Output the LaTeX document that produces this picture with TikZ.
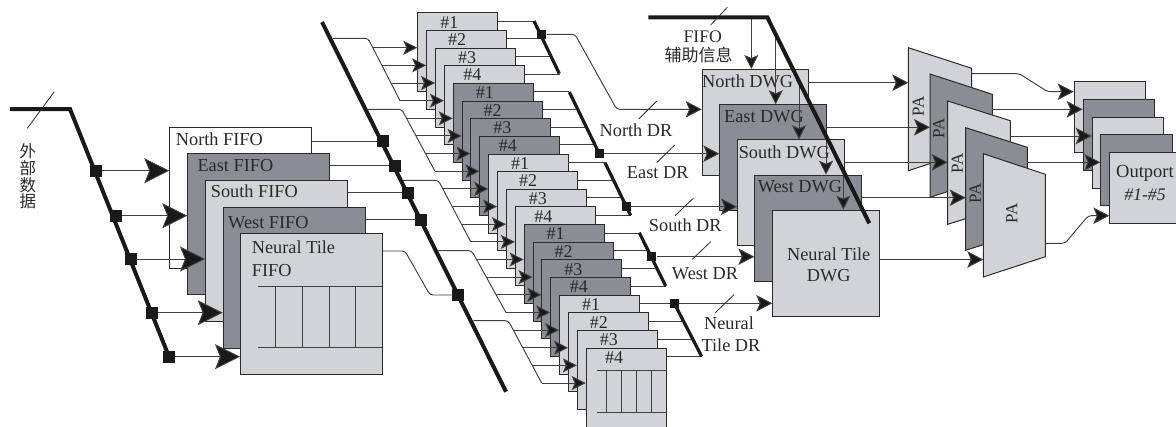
\documentclass[tikz,border=0pt]{standalone}
\usepackage{fontspec}
\setmainfont{Liberation Serif}
\newfontfamily\cjk{Noto Sans CJK SC}
\usetikzlibrary{arrows.meta,calc}
\definecolor{lightbox}{HTML}{D2D3D7}
\definecolor{darkbox}{HTML}{8B8D95}
\definecolor{ink}{HTML}{2A2A2A}
\newcommand{\fsz}[1]{\fontsize{#1}{#1}\selectfont}
\tikzset{
  boxbase/.style={draw=ink,line width=1pt,inner sep=0pt,anchor=north west},
  fifobox/.style={boxbase,minimum width=142pt,minimum height=141pt},
  hashbox/.style={boxbase,minimum width=80pt,minimum height=79pt},
  dwgbox/.style={boxbase,minimum width=106.6pt,minimum height=106pt},
  outbox/.style={boxbase,minimum width=71.3pt,minimum height=71pt},
  paface/.style={draw=ink,line width=1pt,line join=miter},
  txt/.style={text=ink,inner sep=0pt,font=\fsz{18.3}},
  hashtxt/.style={text=ink,inner sep=0pt,font=\fsz{18}},
  thin line/.style={draw=ink!90!white,line width=0.95pt},
  slash/.style={draw=ink,line width=0.8pt},
  thickbus/.style={draw=black!90,line width=4pt,line join=miter},
  groupbus/.style={draw=black!90,line width=3.2pt},
  bigjoin/.style={fill=black!90,draw=none,minimum size=12pt,inner sep=0pt},
  smalljoin/.style={fill=black!90,draw=none,minimum size=9.5pt,inner sep=0pt},
  bigarrow/.style={thin line,-{Stealth[length=25pt,width=25pt,inset=5pt,fill=black!90]}},
  midarrow/.style={thin line,-{Stealth[length=16pt,width=16.5pt,inset=3.5pt,fill=black!90]}},
  tinyarrow/.style={thin line,-{Stealth[length=14pt,width=14pt,inset=3pt,fill=black!90]}},
}
\begin{document}
\begin{tikzpicture}[x=1pt,y=-1pt]
\useasboundingbox (0,0) rectangle (1176,426);
\clip (0,0) rectangle (1176,426);

% ---------- input FIFOs ----------
\coordinate (busA0) at (10,109);
\coordinate (busA1) at (70,109);
\coordinate (busA2) at (169,356.7);
\node[bigjoin] (ja1) at (96,170.7) {};
\node[bigjoin] (ja2) at (116,215.7) {};
\node[bigjoin] (ja3) at (131,259) {};
\node[bigjoin] (ja4) at (152,312.7) {};
\node[bigjoin] (ja5) at (169,356.7) {};

\node[fifobox,fill=white] (fn) at (169.3,127.3) {};
\draw[bigarrow] (ja1) -- (ja1 -| fn.west);
\node[txt,anchor=west] (fnt) at (175.7,139.3) {North FIFO};
\coordinate (fe0) at (187.3,153);
\draw[bigarrow] (ja2) -- (ja2 -| fe0);
\node[fifobox,fill=darkbox] (fe) at (fe0) {};
\node[txt,anchor=west] (fet) at (197.3,165.7) {East FIFO};
\coordinate (fs0) at (205,179.7);
\draw[bigarrow] (ja3) -- (ja3 -| fs0);
\node[fifobox,fill=lightbox] (fs) at (fs0) {};
\node[txt,anchor=west] (fst) at (210.7,191.7) {South FIFO};
\coordinate (fw0) at (222.7,206.7);
\draw[bigarrow] (ja4) -- (ja4 -| fw0);
\node[fifobox,fill=darkbox] (fw) at (fw0) {};
\node[txt,anchor=west] (fwt) at (228,222.7) {West FIFO};
\coordinate (ft0) at (240,232.7);
\draw[bigarrow] (ja5) -- (ja5 -| ft0);
\node[fifobox,fill=lightbox] (ft) at (ft0) {};
\node[txt,anchor=west] (ftt) at (251.7,247.7) {Neural Tile};
\node[txt,anchor=west] (ftu) at (251.7,270.3) {FIFO};
\draw[thin line] (258.3,286) -- (ft.east |- 0,286);
\draw[thin line] (258.3,347.7) -- (ft.east |- 0,347.7);
\foreach \vx in {275.7,302.7,329,355.7} \draw[thin line] (\vx,286) -- (\vx,347.7);

\draw[thickbus] (busA0) -- (busA1) -- (busA2);
\foreach \j in {ja1,ja2,ja3,ja4,ja5} \node[bigjoin] at (\j) {};
\draw[slash] (54.3,91.7) -- (27.3,128.3);
\node[text=ink,inner sep=0pt,align=center,font=\cjk\fontsize{16.5}{16.8}\selectfont] (ext) at (28,176.5) {外\\部\\数\\据};

% ---------- crossbar input bus ----------
\coordinate (busB0) at (322,22);
\coordinate (busB1) at (506,391.7);
\node[bigjoin] (jb1) at (383,141) {};
\node[bigjoin] (jb2) at (395,165.7) {};
\node[bigjoin] (jb3) at (408,192.7) {};
\node[bigjoin] (jb4) at (421,219.5) {};
\node[bigjoin] (jb5) at (457.7,295) {};
\draw[thin line] (fn.east |- jb1) -- (jb1);
\draw[thin line] (fe.east |- jb2) -- (jb2);
\draw[thin line] (fs.east |- jb3) -- (jb3);
\draw[thin line] (fw.east |- jb4) -- (jb4);
\draw[thin line,rounded corners=3pt] (ft.east |- 0,251) -- (405,251) -- (430,295) -- (jb5);

% group tap lines (slanted distribution)
\foreach \sx/\ay/\ax/\bx/\by in {
  333/38.3/368/400/100.7,
  368/109.3/401.7/435/171.3,
  402/180.3/438.3/470.7/241.8,
  438.3/250.7/471.7/506/312.6,
  473.3/320.7/508.3/541.7/383.1}
  \draw[thin line,rounded corners=3pt] (\sx,\ay) -- (\ax,\ay) -- (\bx,\by);

% twenty #n buffers
\foreach \i in {0,...,19}{
  \pgfmathtruncatemacro\g{int(\i/4)}
  \pgfmathtruncatemacro\k{mod(\i,4)}
  \pgfmathtruncatemacro\dk{mod(\g,2)}
  \pgfmathtruncatemacro\num{\k+1}
  \pgfmathsetmacro\bxl{417.3+8.864*\i}
  \pgfmathsetmacro\byt{12.3+17.65*\i}
  \pgfmathsetmacro\ya{47.7+17.65*\i}
  \pgfmathsetmacro\yo{21.3+17.65*\i}
  \pgfmathsetmacro\axx{{368,401.7,438.3,471.7,508.3}[\g]}
  \pgfmathsetmacro\ayy{{38.3,109.3,180.3,250.7,320.7}[\g]}
  \pgfmathsetmacro\bxx{{400,435,470.7,506,541.7}[\g]}
  \pgfmathsetmacro\byy{{100.7,171.3,241.8,312.6,383.1}[\g]}
  \pgfmathsetmacro\sxx{\axx+(\ya-\ayy)*(\bxx-\axx)/(\byy-\ayy)}
  \pgfmathsetmacro\tx{\bxl+40+{-8,-9,-8,-11.5}[\k]}
  \pgfmathsetmacro\ty{\byt+9.8}
  \coordinate (tap\i) at (\sxx,\ya);
  \coordinate (bb\i) at (\bxl,\byt);
  \draw[tinyarrow] (tap\i) -- (\bxl,\ya);
  \ifnum\dk=1
    \node[hashbox,fill=darkbox] (h\i) at (bb\i) {};
  \else
    \node[hashbox,fill=lightbox] (h\i) at (bb\i) {};
  \fi
  \node[hashtxt] (ht\i) at (\tx,\ty) {\#\num};
  % output stub to the collecting bar
  \pgfmathsetmacro\cax{{534,569.3,605,639.3,674.3}[\g]}
  \pgfmathsetmacro\cay{{21.3,92,162.7,232.7,303.3}[\g]}
  \pgfmathsetmacro\cbx{{559.3,599.3,630.7,665.7,701.7}[\g]}
  \pgfmathsetmacro\cby{{73.3,153.7,215,285.7,355.7}[\g]}
  \pgfmathsetmacro\cx{\cax+(\yo-\cay)*(\cbx-\cax)/(\cby-\cay)}
  \coordinate (stub\i) at (\cx,\yo);
  \draw[thin line] (h\i.east |- stub\i) -- (stub\i);
}
% grid in the last buffer
\draw[thin line] (596.7,370.7) -- (h19.east |- 0,370.7);
\draw[thin line] (596.7,412) -- (h19.east |- 0,412);
\foreach \vx in {606,621.3,636.3,651.3} \draw[thin line] (\vx,370.7) -- (\vx,412);

\draw[thickbus] (busB0) -- (busB1);
\foreach \j in {jb1,jb2,jb3,jb4,jb5} \node[bigjoin] at (\j) {};

% ---------- collecting bars ----------
\draw[groupbus] (534,21) -- (559.3,73.6);
\draw[groupbus] (569.3,92) -- (599.3,153.7);
\draw[groupbus] (605,162.7) -- (630.7,215.5);
\draw[groupbus] (639.3,232.7) -- (665.7,286);
\draw[groupbus] (674.3,303.3) -- (701.7,356.5);
\node[smalljoin] (sq1) at (541.7,34.3) {};
\node[smalljoin] (sq2) at (599.3,153.7) {};
\node[smalljoin] (sq3) at (626.3,206.7) {};
\node[smalljoin] (sq4) at (651.7,256.7) {};
\node[smalljoin] (sq5) at (674.3,303.3) {};

% ---------- DWG boxes ----------
\coordinate (dn0) at (701.7,69);
\coordinate (de0) at (719.3,104.3);
\coordinate (ds0) at (737,139.3);
\coordinate (dw0) at (754.3,174.7);
\coordinate (dt0) at (772.3,209.7);
\coordinate (busC0) at (648.3,17.3);
\coordinate (busC1) at (767.3,17.3);
\coordinate (busC2) at (869.3,223.3);
\coordinate (c1) at (751.3,17.3);
\coordinate (c2) at (775.7,34.3);
\coordinate (c3) at (799,81.3);
\coordinate (c4) at (826,135.9);
\coordinate (c5) at (843.3,170.8);
\coordinate (drbend1) at (575,34.3);
\coordinate (drbend2) at (616.7,109.3);

\draw[midarrow,rounded corners=3pt] (sq1) -- (drbend1) -- (drbend2) -- (dn0 |- drbend2);
\draw[tinyarrow] (c1) -- (c1 |- dn0);
\node[dwgbox,fill=lightbox] (dn) at (dn0) {};
\node[txt] (dnt) at (747.7,81.7) {North DWG};
\draw[midarrow] (sq2) -- (sq2 -| de0);
\draw[tinyarrow] (c2) -- (c2 |- de0);
\node[dwgbox,fill=darkbox] (de) at (de0) {};
\node[txt] (det) at (764,116.3) {East DWG};
\draw[midarrow] (sq3) -- (sq3 -| ds0);
\draw[tinyarrow] (c3) -- (c3 |- ds0);
\node[dwgbox,fill=lightbox] (ds) at (ds0) {};
\node[txt] (dst) at (784.3,152.3) {South DWG};
\draw[midarrow] (sq4) -- (sq4 -| dw0);
\draw[tinyarrow] (c4) -- (c4 |- dw0);
\node[dwgbox,fill=darkbox] (dw) at (dw0) {};
\node[txt] (dwt) at (800,186.7) {West DWG};
\draw[midarrow] (sq5) -- (sq5 -| dt0);
\draw[tinyarrow] (c5) -- (c5 |- dt0);
\node[dwgbox,fill=lightbox] (dt) at (dt0) {};
\node[txt] (dtt) at (828.7,254.3) {Neural Tile};
\node[txt] (dtu) at (828.7,276) {DWG};
\draw[thickbus] (busC0) -- (busC1) -- (busC2);
\foreach \j in {sq1,sq2,sq3,sq4,sq5} \node[smalljoin] at (\j) {};

% bus labels
\draw[slash] (727.3,7.3) -- (710.7,25);
\node[txt,font=\fsz{17.7}] (lf) at (702.7,36.7) {FIFO};
\node[text=ink,inner sep=0pt,font=\cjk\fontsize{17}{17}\selectfont] (lg) at (698.5,55) {辅助信息};
\draw[slash] (656.7,101) -- (638.7,119);
\node[txt] (l1) at (636,130) {North DR};
\draw[slash] (674.7,145) -- (656.7,162.7);
\node[txt] (l2) at (657.7,172.7) {East DR};
\draw[slash] (693.3,198.3) -- (675,215.7);
\node[txt] (l3) at (685.3,225) {South DR};
\draw[slash] (710.7,241.7) -- (692.3,259.3);
\node[txt] (l4) at (705,273.3) {West DR};
\draw[slash] (734,294.7) -- (715.3,312.7);
\node[txt] (l5) at (729,323.3) {Neural};
\node[txt] (l6) at (731,345) {Tile DR};

% ---------- PA stages ----------
\coordinate (pa1in) at (908.3,82.7);
\draw[midarrow] (dn.east |- pa1in) -- (pa1in);
\draw[paface,fill=lightbox] (908.3,47.7) -- (971.7,68.3) -- (971.7,150) -- (908.3,170.7) -- cycle;
\node[txt,font=\fsz{17},rotate=90] (p1) at (918.3,106) {PA};
\coordinate (pa2in) at (930,127.3);
\draw[midarrow] (de.east |- pa2in) -- (pa2in);
\draw[paface,fill=darkbox] (930,74) -- (992.3,94.3) -- (992.3,177) -- (930,197.3) -- cycle;
\node[txt,font=\fsz{17},rotate=90] (p2) at (938.7,128.3) {PA};
\coordinate (pa3in) at (947.7,162.3);
\draw[midarrow] (ds.east |- pa3in) -- (pa3in);
\draw[paface,fill=lightbox] (947.7,101) -- (1010.3,120.7) -- (1010.3,204.7) -- (947.7,224.3) -- cycle;
\node[txt,font=\fsz{17},rotate=90] (p3) at (957.3,163.3) {PA};
\coordinate (pa4in) at (965.7,197.7);
\draw[midarrow] (dw.east |- pa4in) -- (pa4in);
\draw[paface,fill=darkbox] (965.7,127.7) -- (1027.3,147.3) -- (1027.3,230.7) -- (965.7,250.3) -- cycle;
\node[txt,font=\fsz{17},rotate=90] (p4) at (975.3,193.3) {PA};
\coordinate (pa5in) at (983.3,259.5);
\draw[midarrow] (dt.east |- pa5in) -- (pa5in);
\draw[paface,fill=lightbox] (983.3,153.7) -- (1045.3,174.3) -- (1045.3,256.7) -- (983.3,277) -- cycle;
\node[txt,font=\fsz{17},rotate=90] (p5) at (1011.7,213.3) {PA};

% ---------- output ports ----------
\coordinate (o1) at (1073.7,81);
\coordinate (o2) at (1082.7,98.7);
\coordinate (o3) at (1091.7,116.7);
\coordinate (o4) at (1100.3,134.3);
\coordinate (o5) at (1109.3,152);
\draw[midarrow,rounded corners=3pt] (971.7,73.7) -- (1019.3,73.7) -- (1047.7,91.7) -- (o1 |- 0,91.7);
\node[outbox,fill=lightbox] (ob1) at (o1) {};
\draw[midarrow] (992.3,109.3) -- (o2 |- 0,109.3);
\node[outbox,fill=darkbox] (ob2) at (o2) {};
\draw[midarrow] (1010.3,136) -- (o3 |- 0,136);
\node[outbox,fill=lightbox] (ob3) at (o3) {};
\draw[midarrow] (1027.3,162.3) -- (o4 |- 0,162.3);
\node[outbox,fill=darkbox] (ob4) at (o4) {};
\draw[midarrow,rounded corners=3pt] (1045.3,243.3) -- (1065,243.3) -- (1088.3,215.7) -- (o5 |- 0,215.7);
\node[outbox,fill=lightbox] (ob5) at (o5) {};
\node[txt,font=\fsz{18.5}] (ot) at (1145,173.3) {Outport};
\node[txt,font=\fsz{17.7}\itshape] (ou) at (1145,194.3) {\#1-\#5};
\end{tikzpicture}
\end{document}
